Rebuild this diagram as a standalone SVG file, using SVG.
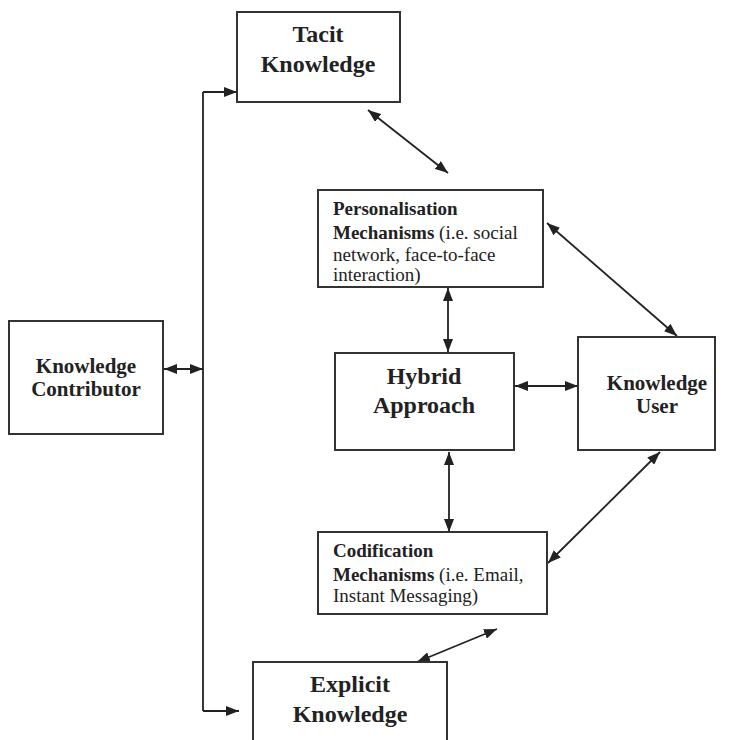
<svg xmlns="http://www.w3.org/2000/svg" width="729" height="740" viewBox="0 0 729 740">
<style>
.box{fill:#fff;stroke:#333;stroke-width:2}
.t{font-family:"Liberation Serif","Times New Roman",serif;fill:#222}
.big{font-size:24px;font-weight:bold;text-anchor:middle}
.mid{font-size:21px;font-weight:bold;text-anchor:middle}
.sm{font-size:19px}
.b{font-weight:bold}
.c{fill:none;stroke:#222;stroke-width:1.8}
</style>
<defs>
<marker id="ah" viewBox="0 0 13 10" refX="13" refY="5" markerWidth="13" markerHeight="10" markerUnits="userSpaceOnUse" orient="auto-start-reverse">
<path d="M0,0 L13,5 L0,10 Z" fill="#222"/>
</marker>
</defs>
<rect width="729" height="740" fill="#fff"/>
<g id="connectors">
<polyline class="c" points="203,92 203,711"/>
<line class="c" x1="203" y1="92" x2="237" y2="92" marker-end="url(#ah)"/>
<line class="c" x1="203" y1="711" x2="239" y2="711" marker-end="url(#ah)"/>
<line class="c" x1="164" y1="369" x2="203" y2="369" marker-start="url(#ah)" marker-end="url(#ah)"/>
<line class="c" x1="368" y1="110" x2="448" y2="173" marker-start="url(#ah)" marker-end="url(#ah)"/>
<line class="c" x1="547" y1="223" x2="677" y2="336" marker-start="url(#ah)" marker-end="url(#ah)"/>
<line class="c" x1="448" y1="288" x2="448" y2="352" marker-start="url(#ah)" marker-end="url(#ah)"/>
<line class="c" x1="515" y1="386" x2="578" y2="386" marker-start="url(#ah)" marker-end="url(#ah)"/>
<line class="c" x1="449" y1="452" x2="449" y2="532" marker-start="url(#ah)" marker-end="url(#ah)"/>
<line class="c" x1="660" y1="452" x2="548" y2="563" marker-start="url(#ah)" marker-end="url(#ah)"/>
<line class="c" x1="417" y1="662" x2="497" y2="629" marker-start="url(#ah)" marker-end="url(#ah)"/>
</g>
<g id="tacit">
<rect class="box" x="237" y="12" width="163" height="90"/>
<text class="t big" x="318" y="42">Tacit</text>
<text class="t big" x="318" y="72">Knowledge</text>
</g>
<g id="personalisation">
<rect class="box" x="318" y="190" width="225" height="97"/>
<text class="t sm" x="333" y="215"><tspan class="b">Personalisation</tspan></text>
<text class="t sm" x="333" y="239"><tspan class="b">Mechanisms</tspan> (i.e. social</text>
<text class="t sm" x="333" y="261">network, face-to-face</text>
<text class="t sm" x="333" y="281">interaction)</text>
</g>
<g id="contributor">
<rect class="box" x="9" y="321" width="154" height="113"/>
<text class="t mid" x="86" y="373">Knowledge</text>
<text class="t mid" x="86" y="396">Contributor</text>
</g>
<g id="hybrid">
<rect class="box" x="335" y="353" width="179" height="97"/>
<text class="t big" x="424" y="384">Hybrid</text>
<text class="t big" x="424" y="413">Approach</text>
</g>
<g id="user">
<rect class="box" x="578" y="337" width="137" height="113"/>
<text class="t mid" x="657" y="390">Knowledge</text>
<text class="t mid" x="657" y="413">User</text>
</g>
<g id="codification">
<rect class="box" x="318" y="532" width="229" height="82"/>
<text class="t sm" x="333" y="557"><tspan class="b">Codification</tspan></text>
<text class="t sm" x="333" y="581"><tspan class="b">Mechanisms</tspan> (i.e. Email,</text>
<text class="t sm" x="333" y="602">Instant Messaging)</text>
</g>
<g id="explicit">
<rect class="box" x="253" y="662" width="194" height="90"/>
<text class="t big" x="350" y="692">Explicit</text>
<text class="t big" x="350" y="722">Knowledge</text>
</g>
</svg>
